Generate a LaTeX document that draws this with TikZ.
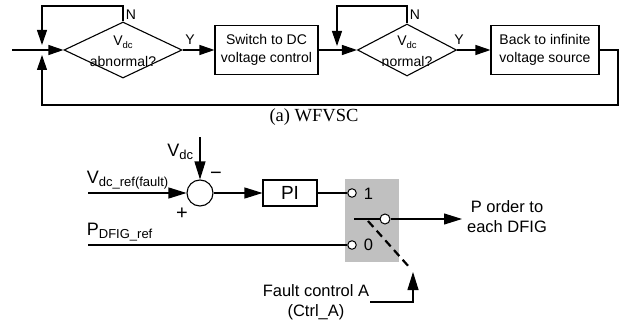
\documentclass[tikz,border=0pt]{standalone}
\usepackage{fontspec}
\setmainfont{Liberation Sans}
\newfontfamily\capfont{Liberation Serif}
\usetikzlibrary{arrows.meta,shapes.geometric}
\definecolor{gbox}{RGB}{192,192,192}
\newcommand\tsub[1]{\raisebox{-0.35ex}{\fontsize{9.5}{10}\selectfont #1}}
\newcommand\bsub[1]{\raisebox{-0.35ex}{\fontsize{13}{13}\selectfont #1}}
\begin{document}
\begin{tikzpicture}[x=1pt,y=-1pt,line width=1.1pt,
  arr/.style={-{Triangle[length=15pt,width=10pt]}},
  barr/.style={-{Triangle[length=18pt,width=11pt]}},
  ttx/.style={font=\fontsize{14}{17}\selectfont},
  btx/.style={font=\fontsize{16.5}{20}\selectfont},
  dia/.style={draw,diamond,inner sep=0pt},
  bx/.style={draw,rectangle,inner sep=0pt,align=center,font=\fontsize{14}{18}\selectfont},
  term/.style={circle,draw,fill=white,inner sep=0pt,minimum size=8.5pt,line width=1pt}]
\useasboundingbox (0,0) rectangle (620,326);
% ---------- top flow chart ----------
\node[dia,minimum width=118pt,minimum height=56pt] (d1) at (123,50) {};
\node[bx,minimum width=103pt,minimum height=49pt] (b1) at (266.5,50) {Switch to DC\\voltage control};
\node[dia,minimum width=99pt,minimum height=52pt] (d2) at (407,50) {};
\node[bx,minimum width=108pt,minimum height=49pt] (b2) at (545,50) {Back to infinite\\voltage source};
\node[ttx] (v1) at (123,42) {V\tsub{dc}};
\node[ttx] (q1) at (123,61) {abnormal?};
\node[ttx] (v2) at (407,42) {V\tsub{dc}};
\node[ttx] (q2) at (407,61) {normal?};
\node[ttx] (n1) at (131,15) {N};
\node[ttx] (n2) at (415,15) {N};
\node[ttx] (y1) at (190,40) {Y};
\node[ttx] (y2) at (459,40) {Y};
\coordinate (in) at (12,50);
\coordinate (t1) at (42,6);
\coordinate (j1a) at (42,45);
\coordinate (j1b) at (42,55);
\coordinate (t2) at (337,6);
\coordinate (j2a) at (337,46);
\coordinate (r1) at (618,50);
\coordinate (r2) at (618,105);
\coordinate (l2) at (42,105);
\draw[arr] (in) -- (d1.west);
\draw[arr] (d1.north) |- (t1) -- (j1a);
\draw[arr] (d1.east) -- (b1.west);
\draw[arr] (b1.east) -- (d2.west);
\draw[arr] (d2.north) |- (t2) -- (j2a);
\draw[arr] (d2.east) -- (b2.west);
\draw[arr] (b2.east) -- (r1) -- (r2) -- (l2) -- (j1b);
\node[font=\capfont\fontsize{18.5}{20}\selectfont] (cap) at (314,117) {(a) WFVSC};
% ---------- bottom block diagram ----------
\node[fill=gbox,minimum width=54pt,minimum height=83pt,inner sep=0pt] (gb) at (372,220.5) {};
\node[circle,draw,minimum size=26pt,inner sep=0pt] (sum) at (200,193) {};
\node[draw,minimum width=54pt,minimum height=26pt,inner sep=0pt,font=\fontsize{19}{20}\selectfont] (pi) at (290,193) {PI};
\node[term] (s1) at (352,193) {};
\node[term] (s0) at (352,245) {};
\node[term,minimum size=10pt] (pv) at (385,219) {};
\coordinate (vdctop) at (200,137);
\coordinate (vref) at (88,193);
\coordinate (pref) at (88,245);
\coordinate (sw) at (354,219);
\coordinate (out) at (462,219);
\coordinate (da) at (368,221);
\coordinate (db) at (410,268);
\coordinate (cl) at (370,302);
\coordinate (cc) at (413,302);
\coordinate (ctip) at (413,272);
\draw[barr] (vdctop) -- (sum.north);
\draw[barr] (vref) -- (sum.west);
\draw[barr] (sum.east) -- (pi.west);
\draw (pi.east) -- (s1.west);
\draw (pref) -- (s0.west);
\draw (sw) -- (pv.west);
\draw[barr] (pv.east) -- (out);
\draw[line width=2.2pt,dash pattern=on 8pt off 5pt] (da) -- (db);
\draw[barr] (cl) -- (cc) -- (ctip);
\node[btx,anchor=east,font=\fontsize{18}{20}\selectfont] (lvdc) at (197,152) {V\bsub{dc}};
\node[btx,anchor=west,font=\fontsize{18}{20}\selectfont] (lvref) at (83,180) {V\bsub{dc\_ref(fault)}};
\node[btx,anchor=west,font=\fontsize{18}{20}\selectfont] (lpref) at (83,232) {P\bsub{DFIG\_ref}};
\node[btx,font=\fontsize{20}{20}\selectfont] (plus) at (182,214) {+};
\node[btx,font=\fontsize{20}{20}\selectfont] (minus) at (216,176) {−};
\node[btx,anchor=west] (l1) at (360,194) {1};
\node[btx,anchor=west] (l0) at (360,245) {0};
\node[btx,align=center] (pord) at (507,217) {P order to\\each DFIG};
\node[btx,align=center] (fc) at (316,302) {Fault control A\\(Ctrl\_A)};
\end{tikzpicture}
\end{document}
